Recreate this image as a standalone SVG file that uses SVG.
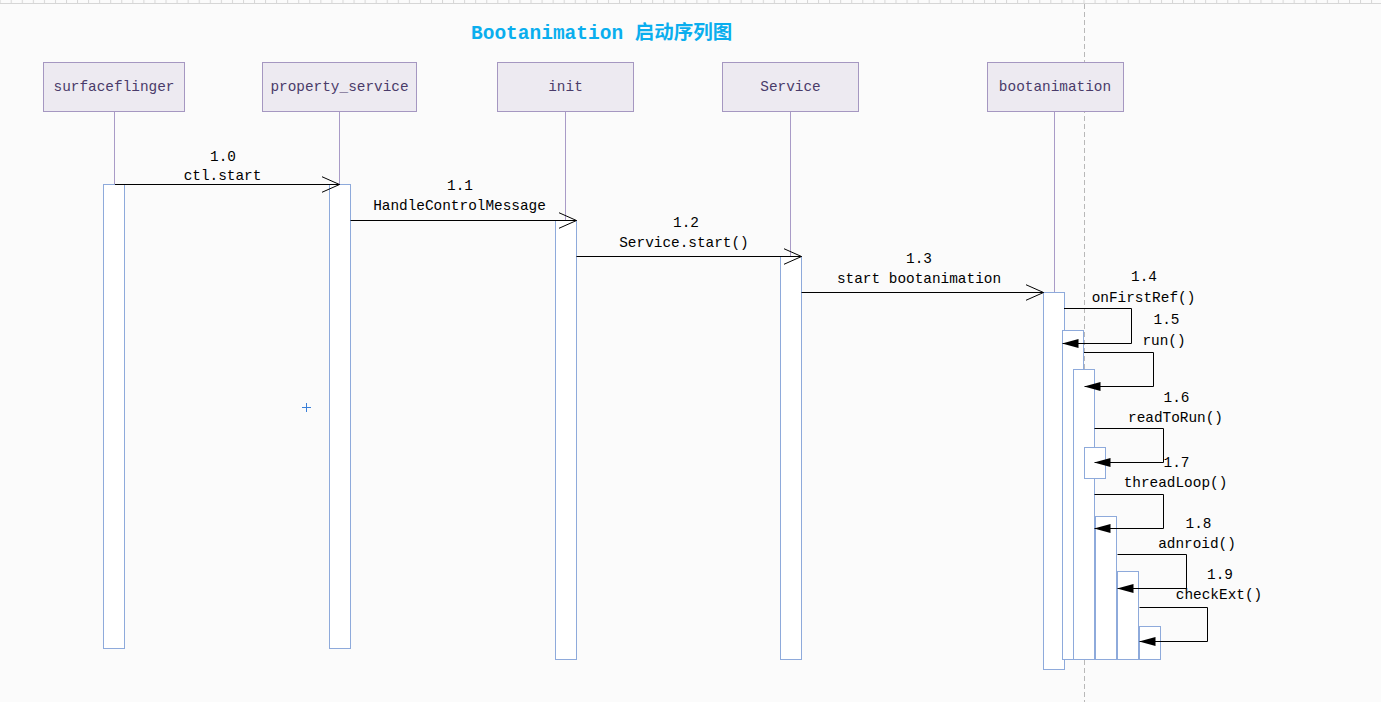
<svg xmlns="http://www.w3.org/2000/svg" width="1381" height="702" viewBox="0 0 1381 702">
<defs>
<pattern id="ruler" x="10.7" y="0" width="11.06" height="4" patternUnits="userSpaceOnUse">
<rect x="0" y="0" width="1" height="3.5" fill="#d6d6d6"/>
</pattern>
<marker id="open" viewBox="0 0 19 18" refX="18" refY="9" markerWidth="19" markerHeight="18" markerUnits="userSpaceOnUse" orient="auto">
<path d="M0,1 L18,9 L0,17" fill="none" stroke="#000" stroke-width="1"/>
</marker>
<marker id="fill" viewBox="0 0 16 10" refX="16" refY="5" markerWidth="16" markerHeight="10" markerUnits="userSpaceOnUse" orient="auto">
<path d="M0,0.5 L16,5 L0,9.5 z" fill="#000"/>
</marker>
</defs>
<style>
.box{fill:#edeaf1;stroke:#a597c1;stroke-width:1}
.bl{font-family:"Liberation Mono",monospace;font-size:14.4px;fill:#4a3b6a;text-anchor:middle}
.life{stroke:#a99bc7;stroke-width:1}
.bar{fill:#fff;stroke:#8eaadb;stroke-width:1}
.msg{fill:none;stroke:#000;stroke-width:1}
.om{marker-end:url(#open)}
.fm{marker-end:url(#fill)}
.ml{font-family:"Liberation Mono",monospace;font-size:14.4px;fill:#000;text-anchor:middle}
</style>
<rect x="0" y="0" width="1381" height="702" fill="#fbfbfb"/>
<rect x="0" y="0" width="1381" height="4" fill="url(#ruler)"/>
<line x1="0" y1="3.5" x2="1381" y2="3.5" stroke="#d6d6d6" stroke-width="1"/>
<line x1="1084.5" y1="4" x2="1084.5" y2="702" stroke="#b8b8b8" stroke-width="1" stroke-dasharray="5,3"/>
<text x="471" y="39" font-family="'Liberation Mono','Noto Sans CJK SC',monospace" font-size="19.5" font-weight="bold" fill="#0aaeee">Bootanimation 启动序列图</text>

<g id="surfaceflinger">
<line class="life" x1="114.5" y1="111" x2="114.5" y2="184"/>
<rect class="box" x="43.5" y="62.5" width="141" height="49"/>
<text class="bl" x="114" y="91">surfaceflinger</text>
<rect class="bar" x="103.5" y="184.5" width="21" height="464"/>
</g>
<g id="property_service">
<line class="life" x1="339.5" y1="111" x2="339.5" y2="184"/>
<rect class="box" x="262.5" y="62.5" width="154" height="49"/>
<text class="bl" x="339.5" y="91">property_service</text>
<rect class="bar" x="329.5" y="184.5" width="21" height="464"/>
</g>
<g id="init">
<line class="life" x1="565.5" y1="111" x2="565.5" y2="220"/>
<rect class="box" x="497.5" y="62.5" width="136" height="49"/>
<text class="bl" x="565.5" y="91">init</text>
<rect class="bar" x="555.5" y="220.5" width="21" height="439"/>
</g>
<g id="Service">
<line class="life" x1="790.5" y1="111" x2="790.5" y2="256"/>
<rect class="box" x="722.5" y="62.5" width="136" height="49"/>
<text class="bl" x="790.5" y="91">Service</text>
<rect class="bar" x="780.5" y="256.5" width="21" height="403"/>
</g>
<g id="bootanimation">
<line class="life" x1="1054.5" y1="111" x2="1054.5" y2="292"/>
<rect class="box" x="987.5" y="62.5" width="136" height="49"/>
<text class="bl" x="1055" y="91">bootanimation</text>
<rect class="bar" x="1043.5" y="292.5" width="21" height="377"/>
<rect class="bar" x="1062.5" y="330.5" width="21" height="329"/>
<rect class="bar" x="1073.5" y="369.5" width="21" height="290"/>
<rect class="bar" x="1084.5" y="447.5" width="21" height="31"/>
<rect class="bar" x="1095.5" y="516.5" width="21" height="143"/>
<rect class="bar" x="1117.5" y="571.5" width="21" height="88"/>
<rect class="bar" x="1139.5" y="626.5" width="21" height="33"/>
</g>

<g id="connectors">
<line class="msg om" x1="115" y1="184.5" x2="339.5" y2="184.5"/>
<text class="ml" x="223" y="161">1.0</text>
<text class="ml" x="222.5" y="180">ctl.start</text>

<line class="msg om" x1="350.5" y1="220.5" x2="576.5" y2="220.5"/>
<text class="ml" x="460" y="190">1.1</text>
<text class="ml" x="459.5" y="210">HandleControlMessage</text>

<line class="msg om" x1="576.5" y1="256.5" x2="801.5" y2="256.5"/>
<text class="ml" x="686" y="227">1.2</text>
<text class="ml" x="684" y="247">Service.start()</text>

<line class="msg om" x1="801.5" y1="292.5" x2="1043.5" y2="292.5"/>
<text class="ml" x="919" y="263">1.3</text>
<text class="ml" x="919" y="283">start bootanimation</text>

<polyline class="msg fm" points="1064,308.5 1131.5,308.5 1131.5,343.5 1062.5,343.5"/>
<text class="ml" x="1144" y="281">1.4</text>
<text class="ml" x="1143.5" y="302">onFirstRef()</text>

<polyline class="msg fm" points="1084,352.5 1153.5,352.5 1153.5,386.5 1084.5,386.5"/>
<text class="ml" x="1166.5" y="324">1.5</text>
<text class="ml" x="1164" y="345">run()</text>

<polyline class="msg fm" points="1094.5,428.5 1163.5,428.5 1163.5,462.5 1094.5,462.5"/>
<text class="ml" x="1176.5" y="402">1.6</text>
<text class="ml" x="1175.5" y="422">readToRun()</text>

<polyline class="msg fm" points="1094.5,494.5 1163.5,494.5 1163.5,528.5 1094.5,528.5"/>
<text class="ml" x="1176.5" y="467">1.7</text>
<text class="ml" x="1175.5" y="487">threadLoop()</text>

<polyline class="msg fm" points="1117.5,554.5 1186.5,554.5 1186.5,588.5 1117.5,588.5"/>
<text class="ml" x="1198.5" y="527.5">1.8</text>
<text class="ml" x="1197" y="547.5">adnroid()</text>

<polyline class="msg fm" points="1139.5,607.5 1207.5,607.5 1207.5,641.5 1139.5,641.5"/>
<text class="ml" x="1220" y="579">1.9</text>
<text class="ml" x="1219" y="599">checkExt()</text>
</g>

<g id="cursor" stroke="#3a7fd8" stroke-width="1" fill="none">
<line x1="302" y1="407.5" x2="311" y2="407.5"/>
<line x1="306.5" y1="403" x2="306.5" y2="412"/>
</g>
</svg>
